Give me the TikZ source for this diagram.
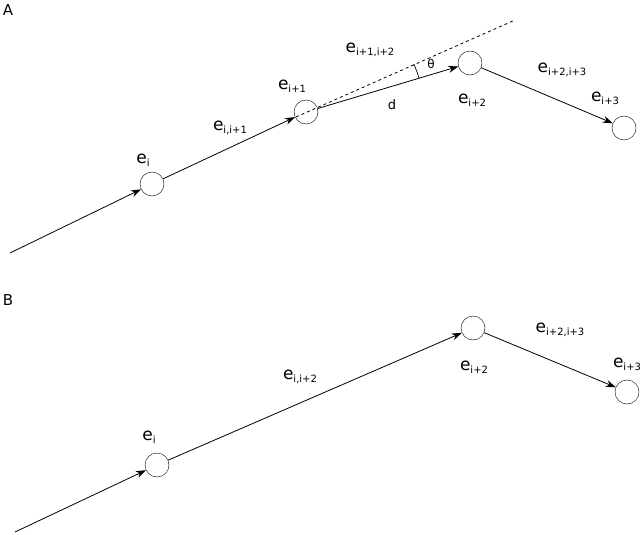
\documentclass[tikz,border=0pt]{standalone}
\usepackage{fontspec}
\setmainfont{DejaVu Sans}
\usetikzlibrary{arrows.meta}
\newcommand{\lbl}[2]{{\fontsize{17}{17}\selectfont e}\raisebox{-3pt}{\fontsize{10}{10}\selectfont #2}}
\begin{document}
\begin{tikzpicture}[x=1pt,y=-1pt,
  vtx/.style={circle,draw,minimum size=24pt,inner sep=0pt},
  edge/.style={-{Stealth[length=10pt,width=7pt]},line width=0.8pt},
  plain/.style={line width=0.8pt},
  txt/.style={inner sep=0pt}]
\useasboundingbox (0,0) rectangle (640,535);
% Panel A
\node[txt] (A) at (8,10) {\fontsize{15}{15}\selectfont A};
\coordinate (s1) at (10,253);
\node[vtx] (a1) at (152,184) {};
\node[vtx] (a2) at (306,112) {};
\node[vtx] (a3) at (470,63) {};
\node[vtx] (a4) at (624,128) {};
\coordinate (dend) at (515,20);
\coordinate (dst) at (296,117);
\draw[edge] (s1) -- (a1);
\draw[edge] (a1) -- (a2);
\draw[edge] (a2) -- (a3);
\draw[edge] (a3) -- (a4);
\draw[plain,dashed] (dst) -- (dend);
\draw[line width=0.7pt] (306,112) ++(-16.6:118) arc[start angle=-16.6,end angle=-24,radius=118];
\node[txt] (la1) at (143,160) {\lbl{}{i}};
\node[txt] (la2) at (292,86) {\lbl{}{i+1}};
\node[txt] (la12) at (230,128) {\lbl{}{i,i+1}};
\node[txt] (lb) at (370,50) {\lbl{}{i+1,i+2}};
\node[txt] (lth) at (431,64) {\fontsize{12}{12}\selectfont θ};
\node[txt] (ld) at (392,105) {\fontsize{13}{13}\selectfont d};
\node[txt] (la3) at (472,100) {\lbl{}{i+2}};
\node[txt] (la34) at (562,70) {\lbl{}{i+2,i+3}};
\node[txt] (la4) at (605,98) {\lbl{}{i+3}};
% Panel B
\node[txt] (B) at (8,300) {\fontsize{15}{15}\selectfont B};
\coordinate (s2) at (15,532);
\node[vtx] (b1) at (157,465) {};
\node[vtx] (b3) at (473,328) {};
\node[vtx] (b4) at (627,392) {};
\draw[edge] (s2) -- (b1);
\draw[edge] (b1) -- (b3);
\draw[edge] (b3) -- (b4);
\node[txt] (lb1) at (149,437) {\lbl{}{i}};
\node[txt] (lb13) at (300,377) {\lbl{}{i,i+2}};
\node[txt] (lb3) at (474,367) {\lbl{}{i+2}};
\node[txt] (lb34) at (560,330) {\lbl{}{i+2,i+3}};
\node[txt] (lb4) at (627,364) {\lbl{}{i+3}};
\end{tikzpicture}
\end{document}
